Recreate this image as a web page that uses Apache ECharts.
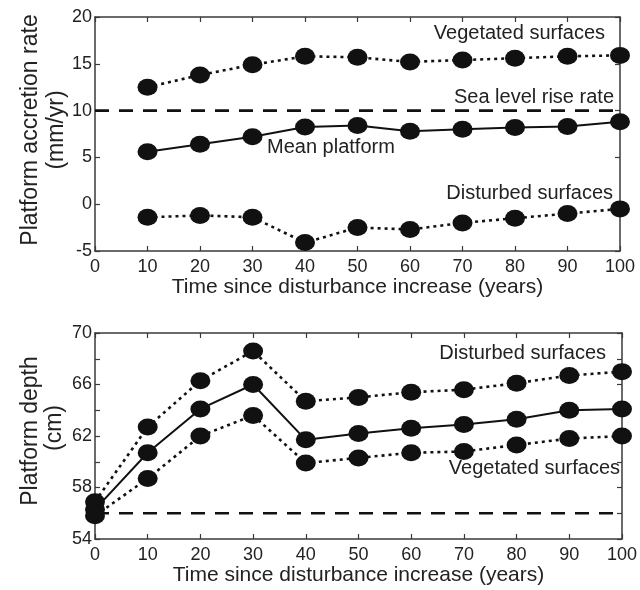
<!DOCTYPE html>
<html>
<head>
<meta charset="utf-8">
<script src="https://cdn.jsdelivr.net/npm/echarts@6/dist/echarts.min.js"></script>
<style>
html,body{margin:0;padding:0;background:#fff;}
#chart{width:640px;height:590px;}
</style>
</head>
<body>
<div id="chart"></div>
<script>
// ---- Data ----
var yearsTop = [10, 20, 30, 40, 50, 60, 70, 80, 90, 100];
var accVegetated = [12.5, 13.8, 14.9, 15.8, 15.7, 15.2, 15.4, 15.6, 15.8, 15.9];
var accMean = [5.6, 6.4, 7.2, 8.25, 8.4, 7.8, 8.0, 8.2, 8.3, 8.8];
var accDisturbed = [-1.4, -1.2, -1.4, -4.1, -2.5, -2.7, -2.0, -1.5, -1.0, -0.5];
var seaLevelRate = 10;

var yearsBottom = [0, 10, 20, 30, 40, 50, 60, 70, 80, 90, 100];
var depthDisturbed = [56.9, 62.7, 66.3, 68.6, 64.7, 65.0, 65.4, 65.6, 66.1, 66.7, 67.0];
var depthMean = [56.3, 60.7, 64.1, 66.0, 61.7, 62.2, 62.6, 62.9, 63.3, 64.0, 64.1];
var depthVegetated = [55.8, 58.7, 62.0, 63.6, 59.9, 60.3, 60.7, 60.8, 61.3, 61.8, 62.0];
var initialDepth = 56;

var xTicks = [0, 10, 20, 30, 40, 50, 60, 70, 80, 90, 100];
var topYTicks = [-5, 0, 5, 10, 15, 20];
var bottomYLabels = [54, 58, 62, 66, 70];

var xTitle = 'Time since disturbance increase (years)';

// ---- Helpers ----
function zip(xs, ys) { return xs.map(function (x, i) { return [x, ys[i]]; }); }
var FONT = '"Liberation Sans", Arial, sans-serif';
var AX = '#3a3a3a';
var INK = '#111';

function xAxes(gridIndex) {
  var common = {
    gridIndex: gridIndex, type: 'value', min: 0, max: 100, interval: 10,
    axisLine: { show: true, onZero: false, lineStyle: { color: AX, width: 1.5 } },
    axisTick: { show: true, inside: true, length: 5, lineStyle: { color: AX, width: 1.2 } },
    splitLine: { show: false }
  };
  return [
    Object.assign({}, common, {
      position: 'bottom',
      axisLabel: { show: true, color: '#222', fontSize: 18, fontFamily: FONT, margin: 7 },
      name: xTitle, nameLocation: 'middle', nameGap: 25,
      nameTextStyle: { color: '#222', fontSize: 21, fontFamily: FONT, verticalAlign: 'top' }
    }),
    Object.assign({}, common, { position: 'top', axisLabel: { show: false } })
  ];
}

function yAxes(gridIndex, min, max, interval, labelFilter) {
  var common = {
    gridIndex: gridIndex, type: 'value', min: min, max: max, interval: interval,
    axisLine: { show: true, onZero: false, lineStyle: { color: AX, width: 1.5 } },
    axisTick: { show: true, inside: true, length: 5, lineStyle: { color: AX, width: 1.2 } },
    splitLine: { show: false }
  };
  return [
    Object.assign({}, common, {
      position: 'left',
      axisLabel: {
        show: true, color: '#222', fontSize: 18, fontFamily: FONT, margin: 3,
        formatter: function (v) { return labelFilter(v) ? String(v) : ''; }
      }
    }),
    Object.assign({}, common, { position: 'right', axisLabel: { show: false } })
  ];
}

var dotted = { color: INK, width: 2.6, type: [3, 4] };
var solid = { color: INK, width: 2 };
var dashed = { color: INK, width: 2.6, type: [14, 10] };
var sym = { symbol: 'circle', symbolSize: [20, 17], itemStyle: { color: INK } };

function lineSeries(xi, yi, data, style) {
  return Object.assign({
    type: 'line', xAxisIndex: xi, yAxisIndex: yi, data: data,
    lineStyle: style, silent: true, animation: false, z: 3, clip: false
  }, sym);
}
function refLine(xi, yi, y) {
  return {
    type: 'line', xAxisIndex: xi, yAxisIndex: yi,
    data: [[0, y], [100, y]], showSymbol: false, symbol: 'none',
    lineStyle: dashed, silent: true, animation: false, z: 2
  };
}

function txt(x, y, text, align) {
  return {
    type: 'text', x: x, y: y, silent: true,
    style: { text: text, fill: '#222', font: '20px ' + FONT, align: align, verticalAlign: 'middle' }
  };
}
function vtxt(x, y, text) {
  return {
    type: 'text', x: x, y: y, rotation: Math.PI / 2, silent: true,
    style: { text: text, fill: '#222', font: '23px ' + FONT, align: 'center', verticalAlign: 'middle' }
  };
}

var chart = echarts.init(document.getElementById('chart'), null, { renderer: 'canvas' });
var option = {
  backgroundColor: '#fff',
  animation: false,
  grid: [
    { left: 95, right: 20, top: 17, height: 234 },
    { left: 95, right: 16, top: 333, height: 206 }
  ],
  xAxis: xAxes(0).concat(xAxes(1)),
  yAxis: yAxes(0, -5, 20, 5, function (v) { return topYTicks.indexOf(v) >= 0; })
    .concat(yAxes(1, 54, 70, 2, function (v) { return bottomYLabels.indexOf(v) >= 0; })),
  series: [
    refLine(0, 0, seaLevelRate),
    lineSeries(0, 0, zip(yearsTop, accVegetated), dotted),
    lineSeries(0, 0, zip(yearsTop, accMean), solid),
    lineSeries(0, 0, zip(yearsTop, accDisturbed), dotted),
    refLine(2, 2, initialDepth),
    lineSeries(2, 2, zip(yearsBottom, depthDisturbed), dotted),
    lineSeries(2, 2, zip(yearsBottom, depthMean), solid),
    lineSeries(2, 2, zip(yearsBottom, depthVegetated), dotted)
  ],
  graphic: [
    txt(605, 33, 'Vegetated surfaces', 'right'),
    txt(614, 97, 'Sea level rise rate', 'right'),
    txt(267, 147, 'Mean platform', 'left'),
    txt(613, 193, 'Disturbed surfaces', 'right'),
    txt(606, 353, 'Disturbed surfaces', 'right'),
    txt(620, 468, 'Vegetated surfaces', 'right'),
    vtxt(31, 130, 'Platform accretion rate'),
    vtxt(57, 130, '(mm/yr)'),
    vtxt(31, 431, 'Platform depth'),
    vtxt(55, 428, '(cm)')
  ]
};
chart.setOption(option);
</script>
</body>
</html>
